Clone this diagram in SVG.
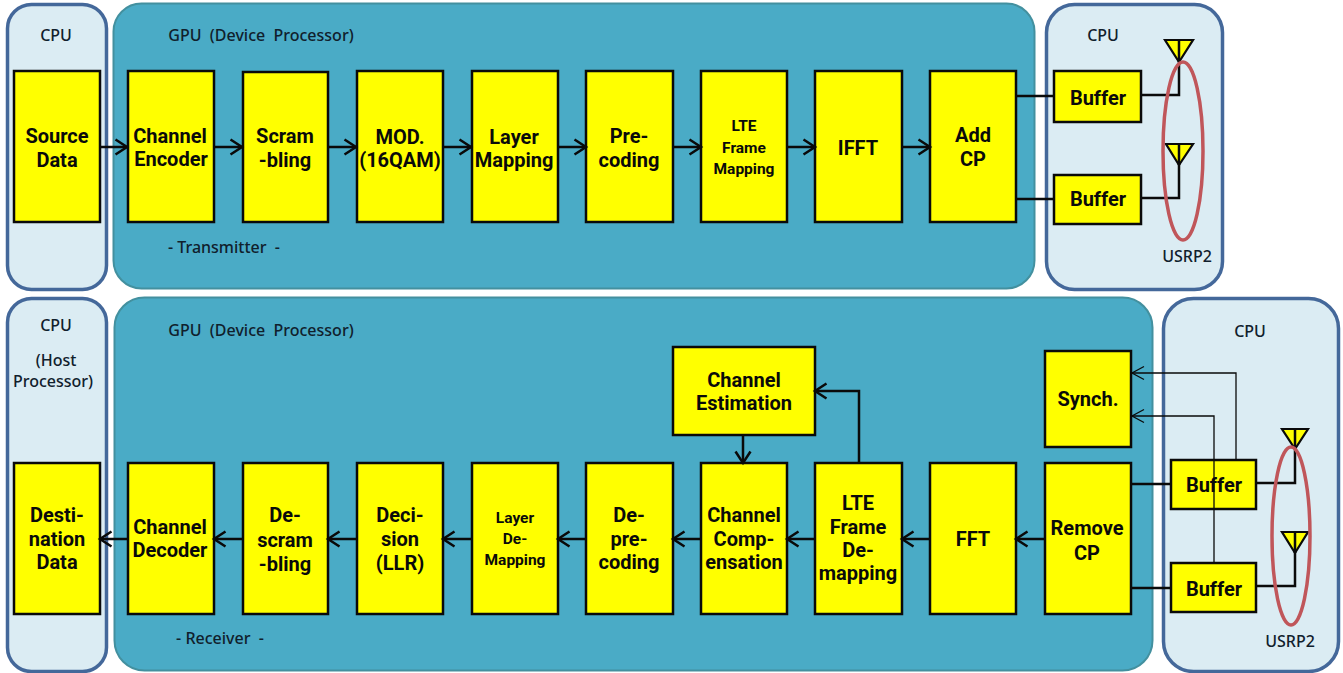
<svg xmlns="http://www.w3.org/2000/svg" width="1343" height="673" viewBox="0 0 1343 673">
<style>
text{font-family:Roboto,"Liberation Sans",sans-serif;text-anchor:middle;fill:#0a0a0a}
.n{font-size:20px;font-weight:700}
.s{font-size:15.500px;font-weight:700}
.l{font-family:"Noto Sans","Liberation Sans",sans-serif;font-size:16px;font-weight:500;fill:#10202c;white-space:pre}
.box{fill:#ffff00;stroke:#0a0a0a;stroke-width:2.5}
.cpu{fill:#dbecf3;stroke:#44689a;stroke-width:3.5}
.gpu{fill:#4aabc6;stroke:#43909f;stroke-width:2}
.c{fill:none;stroke:#0a0a0a;stroke-width:2.5}
.t{fill:none;stroke:#0a0a0a;stroke-width:1.3}
.ant{fill:#ffff00;stroke:#0a0a0a;stroke-width:2.2;stroke-linejoin:miter}
.oval{fill:none;stroke:#c0565a;stroke-width:3.5}
</style>
<defs>
<marker id="a" markerUnits="userSpaceOnUse" markerWidth="16" markerHeight="18" refX="13" refY="9" orient="auto"><path d="M1.5 1.500L13 9L1.500 16.500" fill="none" stroke="#0a0a0a" stroke-width="2.500"/></marker>
<marker id="b" markerUnits="userSpaceOnUse" markerWidth="16" markerHeight="16" refX="13" refY="8" orient="auto"><path d="M1 1.500L13 8L1 14.500" fill="none" stroke="#0a0a0a" stroke-width="1.300"/></marker>
</defs>
<g id="panels">
<rect class="cpu" x="7.500" y="4.500" width="99" height="285" rx="24"/>
<rect class="gpu" x="113.500" y="3.500" width="921" height="285" rx="28"/>
<rect class="cpu" x="1046.500" y="4.500" width="176" height="285" rx="28"/>
<rect class="cpu" x="7.500" y="298.500" width="99" height="373" rx="24"/>
<rect class="gpu" x="114.500" y="297.500" width="1038" height="373" rx="30"/>
<rect class="cpu" x="1163.500" y="298.500" width="175" height="373" rx="30"/>
<text class="l" x="56" y="41">CPU</text>
<text class="l" x="261" y="41">GPU  (Device  Processor)</text>
<text class="l" x="1103" y="41">CPU</text>
<text class="l" x="1187" y="262">USRP2</text>
<text class="l" x="224" y="253">- Transmitter  -</text>
<text class="l" x="56" y="331">CPU</text>
<text class="l" x="56" y="366">(Host</text>
<text class="l" x="53" y="387">Processor)</text>
<text class="l" x="261" y="336">GPU  (Device  Processor)</text>
<text class="l" x="1250" y="337">CPU</text>
<text class="l" x="1290" y="647">USRP2</text>
<text class="l" x="220" y="644">- Receiver  -</text>
</g>
<g id="connectors-under">
<path class="c" d="M1016 96H1054M1016 199H1054M1131 484H1171M1131 588H1171"/>
<path class="c" d="M1141 95H1179V40M1141 198H1179V144M1256 483H1295V429M1256 586H1295V532"/>
</g>
<g id="n1"><rect class="box" x="14" y="71" width="86" height="151"/><text class="n" x="57" y="143">Source</text><text class="n" x="57" y="167">Data</text></g>
<g id="n2"><rect class="box" x="128" y="71" width="86" height="151"/><text class="n" x="170" y="143">Channel</text><text class="n" x="171" y="166">Encoder</text></g>
<g id="n3"><rect class="box" x="243" y="72" width="85" height="150"/><text class="n" x="285" y="143">Scram</text><text class="n" x="285" y="167">-bling</text></g>
<g id="n4"><rect class="box" x="357" y="71" width="86" height="151"/><text class="n" x="400" y="144">MOD.</text><text class="n" x="400" y="167">(16QAM)</text></g>
<g id="n5"><rect class="box" x="472" y="71" width="86" height="151"/><text class="n" x="514" y="144">Layer</text><text class="n" x="514" y="167">Mapping</text></g>
<g id="n6"><rect class="box" x="586" y="71" width="87" height="151"/><text class="n" x="629" y="143">Pre-</text><text class="n" x="629" y="167">coding</text></g>
<g id="n7"><rect class="box" x="701" y="71" width="86" height="151"/><text class="s" x="744" y="131">LTE</text><text class="s" x="744" y="153">Frame</text><text class="s" x="744" y="174">Mapping</text></g>
<g id="n8"><rect class="box" x="815" y="71" width="87" height="151"/><text class="n" x="858" y="155">IFFT</text></g>
<g id="n9"><rect class="box" x="930" y="71" width="86" height="151"/><text class="n" x="973" y="142">Add</text><text class="n" x="973" y="166">CP</text></g>
<g id="b1"><rect class="box" x="1054" y="71" width="87" height="51"/><text class="n" x="1098" y="105">Buffer</text></g>
<g id="b2"><rect class="box" x="1054" y="175" width="87" height="49"/><text class="n" x="1098" y="206">Buffer</text></g>
<g id="r1"><rect class="box" x="14" y="463" width="86" height="151"/><text class="n" x="57" y="522">Desti-</text><text class="n" x="57" y="546">nation</text><text class="n" x="57" y="569">Data</text></g>
<g id="r2"><rect class="box" x="128" y="463" width="86" height="151"/><text class="n" x="170" y="534">Channel</text><text class="n" x="170" y="557">Decoder</text></g>
<g id="r3"><rect class="box" x="243" y="463" width="85" height="151"/><text class="n" x="285" y="522">De-</text><text class="n" x="285" y="547">scram</text><text class="n" x="285" y="571">-bling</text></g>
<g id="r4"><rect class="box" x="357" y="463" width="86" height="151"/><text class="n" x="400" y="522">Deci-</text><text class="n" x="400" y="546">sion</text><text class="n" x="400" y="570">(LLR)</text></g>
<g id="r5"><rect class="box" x="472" y="463" width="86" height="151"/><text class="s" x="515" y="523">Layer</text><text class="s" x="515" y="544">De-</text><text class="s" x="515" y="565">Mapping</text></g>
<g id="r6"><rect class="box" x="586" y="463" width="87" height="151"/><text class="n" x="629" y="522">De-</text><text class="n" x="629" y="546">pre-</text><text class="n" x="629" y="569">coding</text></g>
<g id="r7"><rect class="box" x="701" y="463" width="86" height="151"/><text class="n" x="744" y="522">Channel</text><text class="n" x="744" y="546">Comp-</text><text class="n" x="744" y="569">ensation</text></g>
<g id="r8"><rect class="box" x="815" y="463" width="87" height="151"/><text class="n" x="858" y="510">LTE</text><text class="n" x="858" y="534">Frame</text><text class="n" x="858" y="557">De-</text><text class="n" x="858" y="580">mapping</text></g>
<g id="r9"><rect class="box" x="930" y="463" width="86" height="151"/><text class="n" x="973" y="546">FFT</text></g>
<g id="r10"><rect class="box" x="1045" y="463" width="86" height="151"/><text class="n" x="1087" y="535">Remove</text><text class="n" x="1087" y="560">CP</text></g>
<g id="est"><rect class="box" x="673" y="347" width="142" height="88"/><text class="n" x="744" y="387">Channel</text><text class="n" x="744" y="410">Estimation</text></g>
<g id="sync"><rect class="box" x="1045" y="351" width="86" height="96"/><text class="n" x="1088" y="406">Synch.</text></g>
<g id="b3"><rect class="box" x="1171" y="460" width="85" height="49"/><text class="n" x="1214" y="492">Buffer</text></g>
<g id="b4"><rect class="box" x="1171" y="563" width="85" height="49"/><text class="n" x="1214" y="596">Buffer</text></g>
<g id="antennas">
<path class="ant" d="M1165 40H1193L1179 62Z"/><path class="c" d="M1179 40V62"/>
<path class="ant" d="M1166 144H1193L1179 165Z"/><path class="c" d="M1179 144V165"/>
<path class="ant" d="M1282 429H1308L1295 449Z"/><path class="c" d="M1295 429V449"/>
<path class="ant" d="M1282 532H1308L1295 553Z"/><path class="c" d="M1295 532V553"/>
<ellipse class="oval" cx="1183" cy="151" rx="20" ry="89"/>
<ellipse class="oval" cx="1291" cy="536" rx="19" ry="89"/>
</g>
<g id="connectors">
<g class="c" marker-end="url(#a)">
<path d="M100 147H127"/><path d="M214 147H242"/><path d="M328 147H356"/><path d="M443 147H471"/><path d="M558 147H586"/><path d="M673 147H701"/><path d="M787 147H815"/><path d="M902 147H930"/>
<path d="M128 539H100"/><path d="M243 539H214"/><path d="M357 539H328"/><path d="M472 539H443"/><path d="M586 539H558"/><path d="M701 539H673"/><path d="M815 539H787"/><path d="M930 539H902"/><path d="M1045 539H1016"/>
<path d="M859 463V391H815"/><path d="M743 435V463"/>
</g>
<path class="t" marker-end="url(#b)" d="M1236 460V373H1132"/>
<path class="t" marker-end="url(#b)" d="M1214 563V416H1132"/>
</g>
</svg>
